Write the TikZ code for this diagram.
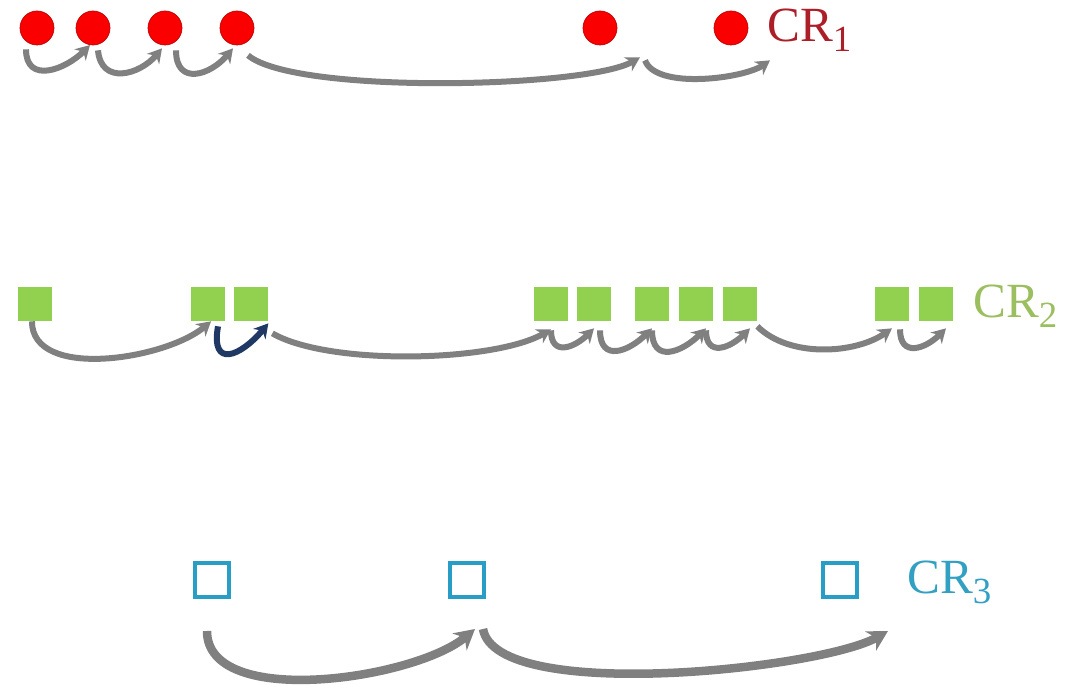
\documentclass[tikz,border=0pt]{standalone}
\usepackage{fontspec}
\setmainfont{Liberation Serif}
\usetikzlibrary{arrows.meta,calc}

\definecolor{dotred}{RGB}{250,0,0}
\definecolor{sqgreen}{RGB}{146,208,80}
\definecolor{sqblue}{RGB}{40,158,198}
\definecolor{hopgray}{RGB}{128,128,128}
\definecolor{hopnavy}{RGB}{31,56,100}
\definecolor{labred}{RGB}{172,30,40}
\definecolor{labgreen}{RGB}{155,190,95}
\definecolor{labblue}{RGB}{50,160,195}

\newcommand{\crlabel}[1]{CR\raisebox{-0.2em}{\fontsize{21}{21}\selectfont #1}}

\begin{document}
\begin{tikzpicture}[x=0.02cm,y=-0.02cm,
    reddot/.style={circle,fill=dotred,draw=red!75!black,line width=0.4pt,minimum size=0.68cm,inner sep=0pt},
    greensq/.style={rectangle,fill=sqgreen,minimum size=0.68cm,inner sep=0pt},
    bluesq/.style={rectangle,draw=sqblue,line width=0.08cm,minimum size=0.68cm,inner sep=0pt},
    crtext/.style={anchor=west,inner sep=0pt,font=\fontsize{28}{30}\selectfont},
    hop/.style={draw=hopgray,line width=0.12cm,-{Stealth[length=0.28cm,width=0.32cm]}},
    hopnavy/.style={hop,draw=hopnavy},
    bighop/.style={draw=hopgray,line width=0.17cm,-{Stealth[length=0.4cm,width=0.44cm]}}]
    \useasboundingbox (0,0) rectangle (1079,685);

    % CR1
    \node[reddot] (a1) at (37,28) {};
    \node[reddot] (a2) at (93,28) {};
    \node[reddot] (a3) at (165,28) {};
    \node[reddot] (a4) at (237,28) {};
    \node[reddot] (a5) at (600,28) {};
    \node[reddot] (a6) at (731,28) {};
    \node[crtext,text=labred] (cr1) at (767,30) {\crlabel{1}};

    \draw[hop] ($(a1.south)+(-11,4)$) to[out=-90,in=-135,looseness=1.4] (a2.-100);
    \draw[hop] ($(a2.south)+(5,5)$) to[out=-85,in=-130,looseness=1.4] ($(a3.south)+(-3,3)$);
    \draw[hop] ($(a3.south)+(11,5)$) to[out=-90,in=-130,looseness=1.6] ($(a4.south)+(-4,3)$);
    \draw[hop] ($(a4.south)+(11,10)$) to[out=-40,in=-150,looseness=0.4] ($(a5.south)+(40,12)$);
    \draw[hop] ($(a5.south)+(45,15)$) to[out=-70,in=-145,looseness=0.65] ($(a6.south)+(39,15)$);

    % CR2
    \node[greensq] (b1) at (35,304) {};
    \node[greensq] (b2) at (208,304) {};
    \node[greensq] (b3) at (251,304) {};
    \node[greensq] (b4) at (551,304) {};
    \node[greensq] (b5) at (594,304) {};
    \node[greensq] (b6) at (652,304) {};
    \node[greensq] (b7) at (696,304) {};
    \node[greensq] (b8) at (740,304) {};
    \node[greensq] (b9) at (892,304) {};
    \node[greensq] (b10) at (936,304) {};
    \node[crtext,text=labgreen] (cr2) at (973,306) {\crlabel{2}};

    \draw[hop] (b1.-100) to[out=-90,in=-140,looseness=0.85] (b2.-80);
    \draw[hopnavy] ($(b2.south)+(10,5)$) to[out=-100,in=-130,looseness=2.2] ($(b3.south east)+(0,2)$);
    \draw[hop] ($(b3.south east)+(4,12)$) to[out=-30,in=-150,looseness=0.6] ($(b4.south)+(0,8)$);
    \draw[hop] ($(b4.south)+(0,9)$) to[out=-90,in=-135,looseness=1.6] ($(b5.south)+(0,7)$);
    \draw[hop] ($(b5.south)+(6,9)$) to[out=-90,in=-135,looseness=1.6] ($(b6.south)+(0,7)$);
    \draw[hop] ($(b6.south)+(0,9)$) to[out=-90,in=-135,looseness=1.6] ($(b7.south)+(10,7)$);
    \draw[hop] ($(b7.south)+(10,9)$) to[out=-90,in=-135,looseness=1.6] ($(b8.south)+(10,7)$);
    \draw[hop] ($(b8.south east)+(0,5)$) to[out=-45,in=-145,looseness=0.85] ($(b9.south)+(0,7)$);
    \draw[hop] ($(b9.south)+(8,8)$) to[out=-90,in=-135,looseness=1.6] ($(b10.south)+(10,7)$);

    % CR3
    \node[bluesq] (c1) at (212,580) {};
    \node[bluesq] (c2) at (467,580) {};
    \node[bluesq] (c3) at (840,580) {};
    \node[crtext,text=labblue] (cr3) at (907,582) {\crlabel{3}};

    \draw[bighop] ($(c1.south)+(-5,32)$) to[out=-90,in=-140,looseness=0.75] ($(c2.south)+(8,30)$);
    \draw[bighop] ($(c2.south)+(16,30)$) to[out=-80,in=-150,looseness=0.48] ($(c3.south)+(48,32)$);
\end{tikzpicture}
\end{document}
